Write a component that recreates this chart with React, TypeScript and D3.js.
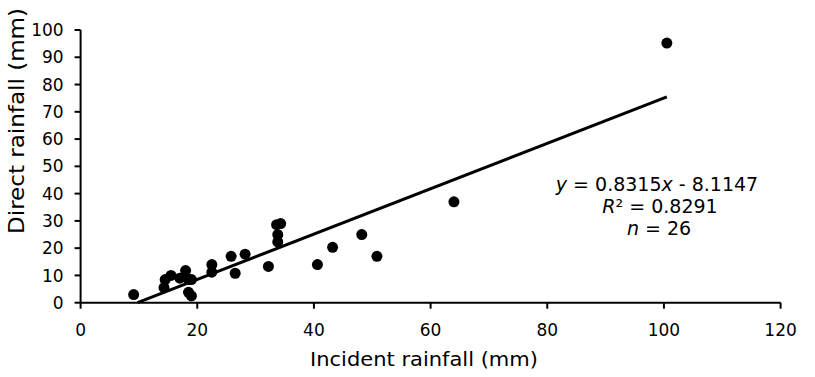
import React from "react";
import * as d3 from "d3";

const incident: number[] = [9.1, 14.3, 14.5, 15.5, 17.0, 18.0, 18.5, 19.0, 18.5, 19.0, 22.5, 22.5, 25.8, 26.5, 28.2, 32.2, 33.6, 34.3, 33.8, 33.8, 40.6, 43.2, 48.2, 50.8, 64.0, 100.5];
const direct: number[] = [3.0, 5.5, 8.5, 10.0, 9.0, 11.8, 8.5, 8.5, 3.8, 2.5, 14.0, 11.2, 17.0, 10.8, 17.8, 13.3, 28.6, 29.0, 25.0, 22.3, 14.0, 20.3, 25.0, 17.0, 37.0, 95.2];
const xTicks: number[] = [0, 20, 40, 60, 80, 100, 120];
const yTicks: number[] = [0, 10, 20, 30, 40, 50, 60, 70, 80, 90, 100];
const slope = 0.8315;
const intercept = -8.1147;

const W = 815;
const H = 377;
const left = 80.6;
const right = 780.6;
const top = 30;
const bottom = 302.7;

export default function App() {
  const x = d3.scaleLinear().domain([0, 120]).range([left, right]);
  const y = d3.scaleLinear().domain([0, 100]).range([bottom, top]);
  const font = "'DejaVu Sans', Verdana, sans-serif";

  const xMin = d3.min(incident) as number;
  const xMax = d3.max(incident) as number;
  const x0 = Math.max(xMin, -intercept / slope);
  const linePath = d3.line<number>().x((d) => x(d)).y((d) => y(slope * d + intercept))([x0, xMax]) as string;

  return (
    <svg width={W} height={H} style={{ position: "absolute", left: 0, top: 0, background: "#fff" }}>
      <rect width={W} height={H} fill="#fff" />
      <line x1={left} x2={right} y1={bottom} y2={bottom} stroke="#000" strokeWidth={2} />
      <line x1={left} x2={left} y1={top} y2={bottom} stroke="#000" strokeWidth={2} />
      {xTicks.map((t) => (
        <g key={"x" + t}>
          <line x1={x(t)} x2={x(t)} y1={bottom} y2={bottom + 6} stroke="#000" strokeWidth={2} />
          <text x={x(t)} y={336} textAnchor="middle" fontFamily={font} fontSize={17} fill="#000">{t}</text>
        </g>
      ))}
      {yTicks.map((t) => (
        <g key={"y" + t}>
          <line x1={left - 6} x2={left} y1={y(t)} y2={y(t)} stroke="#000" strokeWidth={2} />
          <text x={left - 17} y={y(t)} dy="0.36em" textAnchor="end" fontFamily={font} fontSize={17} fill="#000">{t}</text>
        </g>
      ))}
      <text x={424} y={366} textAnchor="middle" fontFamily={font} fontSize={20} textLength={228} lengthAdjust="spacingAndGlyphs" fill="#000">Incident rainfall (mm)</text>
      <text transform={`translate(24,121) rotate(-90)`} textAnchor="middle" fontFamily={font} fontSize={22} textLength={226} lengthAdjust="spacingAndGlyphs" fill="#000">Direct rainfall (mm)</text>
      <path d={linePath} stroke="#000" strokeWidth={3} fill="none" />
      {incident.map((d, i) => (
        <circle key={i} cx={x(d)} cy={y(direct[i])} r={5.5} fill="#000" />
      ))}
      <text x={657} y={191} textAnchor="middle" fontFamily={font} fontSize={19} fill="#000">
        <tspan fontStyle="italic">y</tspan>
        <tspan> = 0.8315</tspan>
        <tspan fontStyle="italic">x</tspan>
        <tspan> - 8.1147</tspan>
      </text>
      <text x={660} y={213} textAnchor="middle" fontFamily={font} fontSize={19} fill="#000">
        <tspan fontStyle="italic">R</tspan>
        <tspan>² = 0.8291</tspan>
      </text>
      <text x={659} y={235} textAnchor="middle" fontFamily={font} fontSize={19} fill="#000">
        <tspan fontStyle="italic">n</tspan>
        <tspan> = 26</tspan>
      </text>
    </svg>
  );
}
